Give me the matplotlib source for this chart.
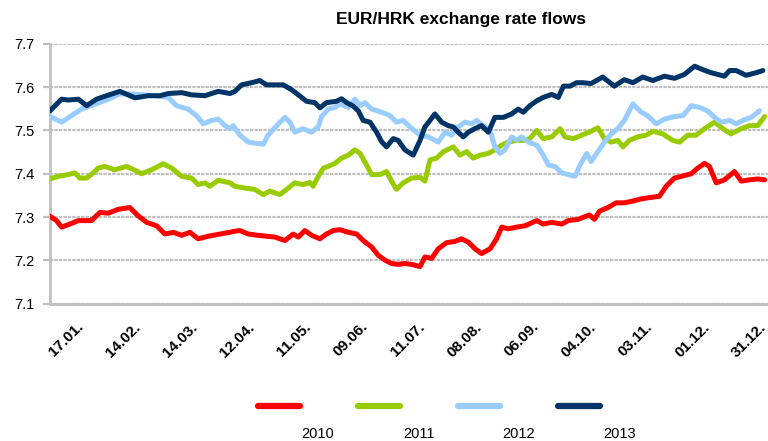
import matplotlib.pyplot as plt
import matplotlib.transforms as mtransforms
from matplotlib.lines import Line2D

plt.rcParams['font.family'] = ['Liberation Sans', 'DejaVu Sans']

# x positions are trading-day index, one label every 20 days
tick_pos = [11 + 20 * i for i in range(13)]
tick_labels = ["17.01.", "14.02.", "14.03.", "12.04.", "11.05.", "09.06.", "11.07.",
               "08.08.", "06.09.", "04.10.", "03.11.", "01.12.", "31.12."]

x_2010 = [0, 2.3, 4.1, 7.0, 10.0, 14.6, 17.6, 20.5, 24.0, 28.1, 31.0, 34.0, 37.5, 40.4, 43.4, 46.3,
          49.2, 52.1, 55.7, 59.8, 63.3, 64.4, 66.8, 69.7, 73.2, 76.1, 79.1, 82.6, 85.5, 87.3, 89.6,
          92.0, 94.9, 97.2, 99.6, 101.9, 104.9, 107.8, 110.1, 113.1, 115.4, 117.7, 120.1, 122.4,
          124.8, 127.1, 130.1, 131.8, 134.2, 136.5, 139.4, 142.4, 144.7, 147.1, 149.4, 151.7,
          154.7, 157.0, 158.8, 161.1, 164.1, 167.0, 171.1, 173.4, 176.4, 179.9, 182.2, 185.7,
          189.6, 191.4, 193.2, 196.1, 199.0, 201.9, 204.9, 207.8, 210.7, 214.2, 216.6, 219.5,
          222.5, 225.4, 227.7, 230.1, 231.8, 234.2, 237.1, 240.6, 243.0, 245.9, 248.8, 251.2]
y_2010 = [7.302, 7.292, 7.277, 7.284, 7.292, 7.292, 7.311, 7.309, 7.318, 7.322, 7.303, 7.288, 7.28,
          7.261, 7.265, 7.258, 7.265, 7.25, 7.256, 7.261, 7.265, 7.267, 7.269, 7.261, 7.258, 7.256,
          7.254, 7.246, 7.261, 7.254, 7.269, 7.258, 7.25, 7.261, 7.269, 7.271, 7.265, 7.261, 7.246,
          7.231, 7.212, 7.201, 7.193, 7.191, 7.193, 7.191, 7.186, 7.208, 7.205, 7.227, 7.241,
          7.244, 7.25, 7.242, 7.227, 7.216, 7.227, 7.25, 7.277, 7.273, 7.277, 7.28, 7.292, 7.284,
          7.288, 7.284, 7.292, 7.295, 7.305, 7.295, 7.314, 7.322, 7.333, 7.333, 7.337, 7.342,
          7.345, 7.348, 7.371, 7.39, 7.395, 7.4, 7.413, 7.424, 7.417, 7.379, 7.386, 7.405, 7.383,
          7.386, 7.388, 7.386]

x_2011 = [0, 2.9, 6.45, 8.8, 10.5, 12.9, 15.2, 17.0, 19.3, 22.8, 26.9, 29.9, 32.2, 35.7, 39.8, 42.8,
          46.3, 49.8, 52.1, 54.5, 56.2, 59.2, 63.3, 65.0, 68.5, 72.0, 75.0, 77.3, 80.8, 83.2, 86.1,
          89.0, 91.4, 92.5, 94.3, 96.1, 97.8, 100.2, 102.5, 104.9, 107.2, 109.0, 111.3, 113.1,
          116.0, 118.3, 120.1, 121.8, 124.2, 127.1, 130.1, 131.8, 133.6, 135.9, 138.3, 141.8,
          144.1, 146.5, 148.8, 151.2, 154.1, 156.4, 158.8, 161.1, 164.1, 166.4, 168.7, 171.1,
          173.4, 176.4, 179.3, 181.0, 184.0, 186.9, 189.6, 192.6, 194.9, 197.3, 199.6, 201.4,
          203.7, 206.6, 209.6, 211.9, 215.4, 218.9, 221.3, 224.2, 227.1, 230.1, 233.6, 236.5,
          239.4, 243.0, 245.9, 248.8, 251.2]
y_2011 = [7.388, 7.394, 7.398, 7.402, 7.39, 7.39, 7.402, 7.413, 7.417, 7.409, 7.417, 7.408, 7.4,
          7.409, 7.423, 7.413, 7.394, 7.39, 7.375, 7.379, 7.371, 7.385, 7.379, 7.371, 7.367, 7.364,
          7.352, 7.36, 7.352, 7.364, 7.379, 7.375, 7.38, 7.371, 7.394, 7.413, 7.417, 7.424, 7.436,
          7.443, 7.455, 7.447, 7.42, 7.398, 7.398, 7.405, 7.383, 7.364, 7.379, 7.39, 7.392, 7.383,
          7.432, 7.436, 7.451, 7.462, 7.443, 7.451, 7.436, 7.443, 7.447, 7.455, 7.466, 7.473,
          7.477, 7.477, 7.481, 7.5, 7.481, 7.485, 7.504, 7.485, 7.481, 7.489, 7.496, 7.506, 7.481,
          7.473, 7.477, 7.462, 7.477, 7.485, 7.489, 7.498, 7.492, 7.477, 7.473, 7.489, 7.489,
          7.504, 7.519, 7.504, 7.492, 7.504, 7.511, 7.511, 7.532]

x_2012 = [0, 4.1, 7.6, 11.1, 15.8, 20.5, 24.6, 28.7, 36.9, 41.6, 44.5, 48.6, 51.5, 53.9, 56.8, 59.2,
          61.5, 63.3, 64.4, 66.8, 69.7, 72.6, 75.0, 76.7, 79.7, 82.6, 84.3, 86.1, 89.0, 92.0, 94.3,
          95.5, 97.8, 100.2, 101.9, 104.9, 107.2, 109.0, 110.7, 113.1, 116.6, 119.5, 121.8, 124.2,
          126.5, 130.1, 133.0, 136.5, 138.9, 141.2, 143.5, 145.9, 148.2, 150.0, 152.3, 154.7,
          156.4, 158.2, 159.9, 162.3, 164.1, 165.8, 168.2, 171.1, 173.4, 175.2, 177.5, 179.9,
          182.2, 184.6, 186.3, 188.7, 190.2, 192.6, 194.9, 197.3, 199.6, 201.9, 204.9, 207.8,
          210.1, 213.1, 216.0, 219.5, 222.5, 225.4, 228.3, 231.2, 233.6, 235.9, 238.9, 241.2,
          243.5, 246.5, 249.4]
y_2012 = [7.532, 7.519, 7.534, 7.549, 7.56, 7.572, 7.584, 7.584, 7.58, 7.576, 7.557, 7.549, 7.534,
          7.515, 7.523, 7.526, 7.511, 7.504, 7.511, 7.489, 7.473, 7.47, 7.468, 7.489, 7.511, 7.53,
          7.519, 7.496, 7.504, 7.496, 7.508, 7.532, 7.549, 7.553, 7.561, 7.553, 7.572, 7.557,
          7.564, 7.549, 7.542, 7.534, 7.519, 7.523, 7.508, 7.489, 7.485, 7.473, 7.496, 7.489,
          7.508, 7.519, 7.515, 7.523, 7.511, 7.5, 7.462, 7.447, 7.455, 7.485, 7.477, 7.485, 7.473,
          7.466, 7.443, 7.42, 7.417, 7.402, 7.398, 7.394, 7.42, 7.447, 7.428, 7.451, 7.473, 7.492,
          7.504, 7.523, 7.561, 7.542, 7.534, 7.515, 7.526, 7.532, 7.534, 7.557, 7.553, 7.545,
          7.53, 7.519, 7.523, 7.515, 7.523, 7.53, 7.545]

x_2013 = [0, 4.1, 6.45, 10.0, 12.9, 16.4, 19.9, 24.6, 29.9, 34.6, 38.7, 41.6, 46.3, 49.8, 54.5,
          59.2, 63.3, 65.0, 67.4, 70.9, 73.8, 76.1, 79.1, 82.0, 84.9, 87.9, 90.2, 93.1, 94.9, 97.2,
          100.7, 102.5, 104.3, 106.6, 108.4, 110.1, 112.5, 114.8, 116.6, 118.3, 120.7, 122.4,
          124.8, 127.7, 130.1, 131.8, 133.6, 135.3, 137.7, 140.0, 141.8, 143.5, 145.3, 147.1,
          149.4, 151.7, 154.1, 156.4, 159.4, 162.3, 164.6, 166.4, 168.7, 171.1, 173.4, 176.4,
          178.7, 180.5, 182.8, 185.1, 187.3, 190.2, 194.3, 198.4, 201.9, 204.9, 208.4, 211.9,
          216.0, 219.5, 223.0, 226.6, 229.5, 232.4, 234.8, 237.1, 238.9, 241.2, 244.7, 248.2, 250.6]
y_2013 = [7.545, 7.572, 7.57, 7.572, 7.557, 7.572, 7.58, 7.59, 7.575, 7.58, 7.58, 7.585, 7.587,
          7.582, 7.58, 7.59, 7.585, 7.59, 7.605, 7.61, 7.615, 7.605, 7.605, 7.605, 7.594, 7.579,
          7.567, 7.564, 7.552, 7.564, 7.567, 7.573, 7.564, 7.556, 7.545, 7.523, 7.519, 7.496,
          7.474, 7.462, 7.481, 7.477, 7.455, 7.443, 7.477, 7.508, 7.523, 7.538, 7.519, 7.511,
          7.508, 7.496, 7.485, 7.496, 7.504, 7.511, 7.496, 7.53, 7.53, 7.538, 7.549, 7.542, 7.557,
          7.568, 7.576, 7.583, 7.576, 7.602, 7.602, 7.61, 7.61, 7.608, 7.623, 7.602, 7.617, 7.61,
          7.623, 7.615, 7.625, 7.62, 7.629, 7.648, 7.64, 7.633, 7.629, 7.625, 7.638, 7.638, 7.627,
          7.633, 7.638]

years = ["2010", "2011", "2012", "2013"]
colors = ["#ff0000", "#99cc00", "#99ccff", "#003366"]

fig = plt.figure(figsize=(7.68, 4.41), dpi=100)
ax = fig.add_axes([0.065, 0.311, 0.935, 0.590])

series = [(x_2010, y_2010), (x_2011, y_2011), (x_2012, y_2012), (x_2013, y_2013)]
for (xs, ys), c in zip(series, colors):
    ax.plot(xs, ys, color=c, lw=3.6, solid_joinstyle='round', solid_capstyle='round', zorder=3)

ax.set_xlim(0, 252.4)
ax.set_ylim(7.1, 7.7)
ax.set_yticks([7.1, 7.2, 7.3, 7.4, 7.5, 7.6, 7.7])
ax.set_yticklabels(["7.1", "7.2", "7.3", "7.4", "7.5", "7.6", "7.7"])
ax.set_xticks(tick_pos)
ax.set_xticklabels(tick_labels, rotation=45, ha='right', va='center',
                   rotation_mode='anchor', fontsize=11, fontweight='bold')
shift = mtransforms.ScaledTranslation(5 / 100, 0, fig.dpi_scale_trans)
for lab in ax.get_xticklabels():
    lab.set_transform(lab.get_transform() + shift)

ax.grid(axis='y', color='#c0c0c0', lw=1.6, linestyle=(0, (1.5, 0.5)), zorder=1)
ax.tick_params(axis='x', length=0, pad=15)
ax.tick_params(axis='y', length=5, width=1.6, color='#c0c0c0', labelsize=10.5, pad=6)
for s in ['top', 'right']:
    ax.spines[s].set_visible(False)
for s in ['left', 'bottom']:
    ax.spines[s].set_color('#c0c0c0')
    ax.spines[s].set_linewidth(2)

fig.text(0.600, 0.955, "EUR/HRK exchange rate flows", ha='center', va='center',
         fontsize=12.5, fontweight='bold')

# legend: line above, year label below and to the right
for i, (yr, c) in enumerate(zip(years, colors)):
    x0 = (258 + 100 * i) / 768
    fig.add_artist(Line2D([x0, x0 + 42 / 768], [1 - 406 / 441, 1 - 406 / 441], color=c,
                          lw=4.5, solid_capstyle='round'))
    fig.text((318 + 100.5 * i) / 768, 1 - 434 / 441, yr, ha='center', va='center', fontsize=10.5)

fig.savefig("out.png", dpi=100)
